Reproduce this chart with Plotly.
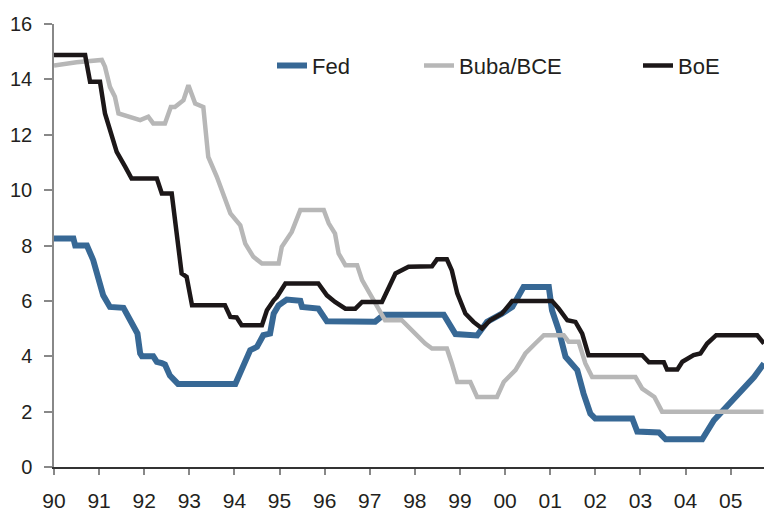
import plotly.graph_objects as go

# ---- data (decimal year, policy rate %) ----
fed_t = [1990.00, 1990.43, 1990.47, 1990.73, 1990.87, 1990.98, 1991.09, 1991.24, 1991.54, 1991.69,
         1991.85, 1991.91, 1991.95, 1992.20, 1992.28, 1992.39, 1992.46, 1992.57, 1992.75, 1994.02,
         1994.24, 1994.35, 1994.50, 1994.64, 1994.79, 1994.87, 1994.98, 1995.16, 1995.46, 1995.50,
         1995.86, 1996.05, 1997.12, 1997.31, 1998.64, 1998.90, 1999.38, 1999.60, 1999.93, 2000.16,
         2000.41, 2000.97, 2001.04, 2001.19, 2001.34, 2001.49, 2001.60, 2001.74, 2001.89, 2002.00,
         2002.82, 2002.93, 2003.41, 2003.56, 2004.37, 2004.63, 2004.93, 2005.22, 2005.52, 2005.74]
fed_v = [8.25, 8.25, 8.00, 8.00, 7.47, 6.87, 6.20, 5.78, 5.75, 5.30,
         4.82, 4.10, 4.00, 4.00, 3.80, 3.75, 3.70, 3.30, 3.00, 3.00,
         3.74, 4.22, 4.34, 4.76, 4.82, 5.54, 5.84, 6.05, 6.00, 5.78,
         5.72, 5.26, 5.25, 5.50, 5.50, 4.80, 4.75, 5.24, 5.54, 5.78,
         6.50, 6.50, 5.66, 4.94, 3.98, 3.74, 3.50, 2.65, 1.93, 1.75,
         1.75, 1.28, 1.25, 1.00, 1.00, 1.69, 2.23, 2.71, 3.25, 3.74]

buba_t = [1990.00, 1990.50, 1991.06, 1991.13, 1991.24, 1991.35, 1991.43, 1991.91, 1992.09, 1992.20,
          1992.46, 1992.59, 1992.68, 1992.87, 1992.98, 1993.13, 1993.31, 1993.42, 1993.61, 1993.76,
          1993.91, 1994.13, 1994.24, 1994.42, 1994.61, 1994.98, 1995.05, 1995.27, 1995.42, 1995.46,
          1995.98, 1996.09, 1996.23, 1996.31, 1996.46, 1996.72, 1996.83, 1997.05, 1997.34, 1997.71,
          1997.86, 1998.23, 1998.38, 1998.71, 1998.82, 1998.94, 1999.23, 1999.38, 1999.82, 1999.97,
          2000.23, 2000.45, 2000.67, 2000.86, 2001.30, 2001.41, 2001.63, 2001.78, 2001.93, 2002.89,
          2003.04, 2003.31, 2003.48, 2005.73]
buba_v = [14.50, 14.62, 14.70, 14.46, 13.73, 13.37, 12.77, 12.53, 12.65, 12.41,
          12.41, 13.00, 13.00, 13.25, 13.79, 13.13, 13.00, 11.20, 10.48, 9.76,
          9.16, 8.73, 8.07, 7.59, 7.35, 7.35, 7.95, 8.49, 9.20, 9.28,
          9.28, 8.80, 8.43, 7.71, 7.29, 7.29, 6.75, 6.14, 5.30, 5.30,
          5.06, 4.46, 4.28, 4.28, 3.74, 3.07, 3.07, 2.53, 2.53, 3.07,
          3.50, 4.10, 4.46, 4.76, 4.76, 4.52, 4.52, 3.74, 3.25, 3.25,
          2.83, 2.53, 2.00, 2.00]

boe_t = [1990.00, 1990.69, 1990.80, 1991.02, 1991.13, 1991.28, 1991.39, 1991.58, 1991.72, 1992.28,
         1992.39, 1992.61, 1992.83, 1992.94, 1993.06, 1993.79, 1993.91, 1994.05, 1994.16, 1994.61,
         1994.72, 1994.87, 1994.94, 1995.13, 1995.86, 1996.05, 1996.23, 1996.46, 1996.68, 1996.83,
         1997.27, 1997.57, 1997.86, 1998.38, 1998.49, 1998.71, 1998.82, 1998.94, 1999.12, 1999.30,
         1999.49, 1999.67, 1999.93, 2000.16, 2001.04, 2001.19, 2001.38, 2001.56, 2001.71, 2001.85,
         2003.04, 2003.19, 2003.52, 2003.59, 2003.82, 2003.93, 2004.18, 2004.33, 2004.48, 2004.68,
         2005.59, 2005.74]
boe_v = [14.88, 14.88, 13.91, 13.91, 12.77, 11.93, 11.38, 10.84, 10.42, 10.42,
         9.88, 9.88, 6.99, 6.87, 5.84, 5.84, 5.42, 5.40, 5.12, 5.12,
         5.66, 6.02, 6.14, 6.63, 6.63, 6.20, 5.96, 5.72, 5.72, 5.96,
         5.96, 6.99, 7.23, 7.25, 7.50, 7.50, 7.10, 6.27, 5.54, 5.24,
         5.00, 5.30, 5.54, 6.00, 6.00, 5.72, 5.30, 5.24, 4.82, 4.04,
         4.04, 3.78, 3.78, 3.52, 3.52, 3.80, 4.04, 4.10, 4.46, 4.76,
         4.76, 4.46]

tick_years = list(range(1990, 2006))
tick_text = ["90", "91", "92", "93", "94", "95", "96", "97", "98", "99",
             "00", "01", "02", "03", "04", "05"]

FONT = "Liberation Sans, Arial, sans-serif"
TXT = "#231f20"

fig = go.Figure()
fig.add_trace(go.Scatter(x=fed_t, y=fed_v, name="Fed", mode="lines", legend="legend",
                         line=dict(color="#376895", width=6)))
fig.add_trace(go.Scatter(x=buba_t, y=buba_v, name="Buba/BCE", mode="lines", legend="legend2",
                         line=dict(color="#b7b7b7", width=4.5)))
fig.add_trace(go.Scatter(x=boe_t, y=boe_v, name="BoE", mode="lines", legend="legend3",
                         line=dict(color="#1c1718", width=4.5)))

def leg(x):
    return dict(x=x, y=0.953, xanchor="left", yanchor="top", orientation="h",
                font=dict(family=FONT, size=22, color=TXT), bgcolor="rgba(0,0,0,0)",
                borderwidth=0)

fig.update_layout(
    width=764, height=511,
    margin=dict(l=54, r=0, t=24, b=44, autoexpand=False),
    paper_bgcolor="white", plot_bgcolor="white",
    font=dict(family=FONT, size=20, color=TXT),
    showlegend=True,
    legend=leg((272 - 54) / 710),
    legend2=leg((419 - 54) / 710),
    legend3=leg((638 - 54) / 710),
)
fig.update_xaxes(range=[1990, 2005.74], tickvals=tick_years, ticktext=tick_text,
                 automargin=False,
                 showgrid=False, zeroline=False, showline=True, linecolor="#333333",
                 linewidth=1.5, ticks="outside", ticklen=6, tickcolor="#888888",
                 tickwidth=1.5, ticklabelstandoff=8,
                 tickfont=dict(family=FONT, size=21, color=TXT))
fig.update_yaxes(range=[0, 16], tickvals=list(range(0, 17, 2)),
                 automargin=False,
                 showgrid=False, zeroline=False, showline=True, linecolor="#888888",
                 linewidth=1.5, ticks="outside", ticklen=8, tickcolor="#888888",
                 tickwidth=1.5, ticklabelstandoff=8,
                 tickfont=dict(family=FONT, size=20, color=TXT))

fig.write_html("out.html", config={"displayModeBar": False},
               post_script="document.body.style.margin='0';document.body.style.overflow='hidden';")
